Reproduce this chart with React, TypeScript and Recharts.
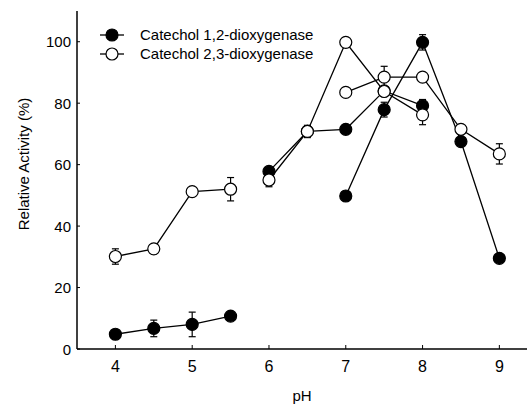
import React from 'react';
import { ComposedChart, Line, XAxis, YAxis, ErrorBar, Legend } from 'recharts';

// pH values of the three buffer ranges
const phA = [4, 4.5, 5, 5.5];
const phB = [6, 6.5, 7, 7.5, 8];
const phC = [7, 7.5, 8, 8.5, 9];

// Catechol 1,2-dioxygenase (filled)
const c12A = [4.8, 6.7, 8, 10.7];
const c12AErr = [1.5, 2.7, 4, 0.8];
const c12B = [57.8, 70.8, 71.5, 84, 79.2];
const c12BErr = [1, 1.5, 1.2, 1, 2];
const c12C = [49.8, 77.9, 99.8, 67.5, 29.5];
const c12CErr = [1.5, 2.4, 2.5, 1, 1.2];

// Catechol 2,3-dioxygenase (open)
const c23A = [30.1, 32.6, 51.2, 52];
const c23AErr = [2.5, 1, 1, 3.8];
const c23B = [55, 70.8, 99.8, 83.8, 76.2];
const c23BErr = [2.2, 2, 0.8, 1, 3.2];
const c23C = [83.5, 88.5, 88.5, 71.5, 63.5];
const c23CErr = [1, 3.5, 1, 1, 3.3];

const xTicks = [4, 5, 6, 7, 8, 9];
const yTicks = [0, 20, 40, 60, 80, 100];
const legendNames = ['Catechol 1,2-dioxygenase', 'Catechol 2,3-dioxygenase'];
const xTitle = 'pH';
const yTitle = 'Relative Activity (%)';

const build = (xs: number[], ys: number[], es: number[]) =>
  xs.map((x, i) => ({ x, y: ys[i], e: es[i] }));

const series = [
  { id: 'c12A', data: build(phA, c12A, c12AErr), filled: true },
  { id: 'c12B', data: build(phB, c12B, c12BErr), filled: true },
  { id: 'c12C', data: build(phC, c12C, c12CErr), filled: true },
  { id: 'c23A', data: build(phA, c23A, c23AErr), filled: false },
  { id: 'c23B', data: build(phB, c23B, c23BErr), filled: false },
  { id: 'c23C', data: build(phC, c23C, c23CErr), filled: false },
];

const FONT = 'Arial, "Liberation Sans", sans-serif';

const XTick = (props: any) => {
  const { x, y, payload } = props;
  return (
    <g>
      <line x1={x} x2={x} y1={y} y2={y - 4} stroke="#000" strokeWidth={1} />
      <text x={x} y={y + 23} textAnchor="middle" fontSize={16} fontFamily={FONT} fill="#000">
        {payload.value}
      </text>
    </g>
  );
};

const YTick = (props: any) => {
  const { x, y, payload } = props;
  return (
    <g>
      <line x1={x} x2={x + 3} y1={y} y2={y} stroke="#000" strokeWidth={1} />
      <text x={x - 6} y={y + 5.5} textAnchor="end" fontSize={15} fontFamily={FONT} fill="#000">
        {payload.value}
      </text>
    </g>
  );
};

const YTitle = () => (
  <text
    x={23}
    y={164}
    transform="rotate(-90, 23, 164)"
    textAnchor="middle"
    dominantBaseline="central"
    fontSize={15}
    fontFamily={FONT}
    fill="#000"
  >
    {yTitle}
  </text>
);

const LegendContent = () => (
  <svg width={240} height={46} style={{ display: 'block' }}>
    {legendNames.map((name, i) => {
      const cy = 9 + i * 19;
      return (
        <g key={name}>
          <line x1={2} x2={26} y1={cy} y2={cy} stroke="#000" strokeWidth={1.3} />
          <circle cx={14} cy={cy} r={6} fill={i === 0 ? '#000' : '#fff'} stroke="#000" strokeWidth={1.2} />
          <text x={42} y={cy + 5} fontSize={15} fontFamily={FONT} fill="#000">
            {name}
          </text>
        </g>
      );
    })}
  </svg>
);

export default function App() {
  return (
    <div style={{ position: 'absolute', left: 0, top: 0, width: 527, height: 406, background: '#fff' }}>
      <ComposedChart width={527} height={406} margin={{ top: 11, right: 0, bottom: 0, left: 0 }}>
        <XAxis
          dataKey="x"
          type="number"
          domain={[3.5, 9.36]}
          ticks={xTicks}
          allowDataOverflow
          height={57}
          tickSize={0}
          tickMargin={0}
          tickLine={false}
          tick={<XTick />}
          axisLine={{ stroke: '#000', strokeWidth: 1.5 }}
          label={{ value: xTitle, position: 'insideBottom', offset: 5, fontSize: 15, fontFamily: FONT, fill: '#000' }}
        />
        <YAxis
          type="number"
          domain={[0, 110]}
          ticks={yTicks}
          allowDataOverflow
          width={77}
          tickSize={0}
          tickMargin={0}
          tickLine={false}
          tick={<YTick />}
          axisLine={{ stroke: '#000', strokeWidth: 1.5 }}
          label={<YTitle />}
        />
        <Legend
          layout="vertical"
          align="center"
          verticalAlign="middle"
          content={<LegendContent />}
          wrapperStyle={{ position: 'absolute', left: 98, top: 26, width: 240, height: 46 }}
        />
        {series.map((s) => (
          <Line
            key={s.id}
            data={s.data}
            dataKey="y"
            type="linear"
            stroke="#000"
            strokeWidth={1.3}
            isAnimationActive={false}
            activeDot={false}
            legendType="none"
            dot={{ r: 6, fill: s.filled ? '#000' : '#fff', stroke: '#000', strokeWidth: 1.2 }}
          >
            <ErrorBar dataKey="e" direction="y" width={3.5} stroke="#000" strokeWidth={1.2} />
          </Line>
        ))}
      </ComposedChart>
    </div>
  );
}
